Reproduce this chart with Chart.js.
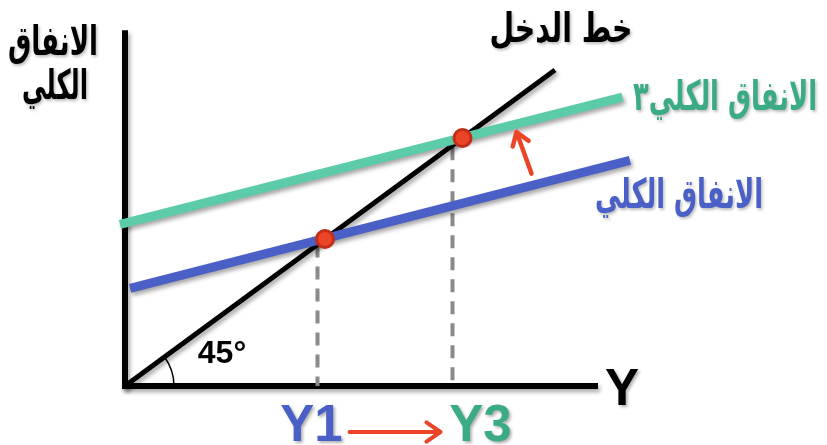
<!DOCTYPE html>
<html lang="ar">
<head>
<meta charset="utf-8">
<title>الانفاق الكلي وخط الدخل</title>
<script src="https://cdn.jsdelivr.net/npm/chart.js@4.4.1/dist/chart.umd.min.js"></script>
<style>
  html, body { margin: 0; padding: 0; background: #fff; }
  #wrap { width: 827px; height: 445px; }
</style>
</head>
<body>
<div id="wrap"><canvas id="chart" width="827" height="445"></canvas></div>
<script>
// 45 degree income line (spending = income)
const incomeX = [0, 86];
// aggregate expenditure before the shift (blue) and after it (green)
const ae1X = [1, 101];
const ae1Y = [26.6, 61.4];
const ae3X = [-1, 99.5];
const ae3Y = [44, 78.6];
// equilibrium incomes, where each AE line meets the 45 degree line
const equilibria = [40, 67.5];
// dashed guides dropped down to the income axis
const dropX = [38.5, 65.5];
const dropTop = [38.5, 65];
// axis extents
const axisXMax = 94;
const axisYMax = 96;

const xLabels = ['Y1', 'Y3'];
const yTitle = ['الانفاق', 'الكلي'];
const incomeTitle = 'خط الدخل';
const ae1Title = 'الانفاق الكلي';
const ae3Title = 'الانفاق الكلي٣';

const BLUE = '#4b60c6';
const GREEN_LINE = '#5ccba9';
const GREEN_TEXT = '#3aab86';
const RED = '#ec4426';

const toPoints = (xs, ys) => xs.map((x, i) => ({ x: x, y: ys[i] }));

// y value of a straight line through two points, at x
const lineAt = (xs, ys, x) => ys[0] + (ys[1] - ys[0]) * (x - xs[0]) / (xs[1] - xs[0]);

const datasets = [
    {
        label: 'axis-y', data: toPoints([0, 0], [0, axisYMax]),
        borderColor: '#000', borderWidth: 6, borderCapStyle: 'square', order: 5, shadow: true
    },
    {
        label: 'axis-x', data: toPoints([0, axisXMax], [0, 0]),
        borderColor: '#000', borderWidth: 6, borderCapStyle: 'square', order: 5, shadow: true
    },
    ...dropX.map((x, i) => ({
        label: 'drop-' + i, data: toPoints([x, x], [dropTop[i], 0]),
        borderColor: '#8a8a8a', borderWidth: 4, borderDash: [13, 9], order: 4
    })),
    {
        label: incomeTitle, data: toPoints(incomeX, incomeX),
        borderColor: '#000', borderWidth: 5, order: 3, shadow: true
    },
    {
        label: ae3Title, data: toPoints(ae3X, ae3Y),
        borderColor: GREEN_LINE, borderWidth: 9, order: 2, shadow: true
    },
    {
        label: ae1Title, data: toPoints(ae1X, ae1Y),
        borderColor: BLUE, borderWidth: 9, order: 1, shadow: true
    },
    {
        label: 'equilibrium', data: toPoints(equilibria, equilibria), showLine: false,
        pointRadius: 8.5, pointBackgroundColor: RED, pointBorderColor: '#c22d18', pointBorderWidth: 3, order: 0
    }
];
datasets.forEach(ds => { ds.clip = false; if (ds.showLine === undefined) ds.showLine = true; });

// soft drop shadow like the slide graphic
const shadowPlugin = {
    id: 'shadow',
    beforeDatasetDraw(chart, args) {
        if (!chart.data.datasets[args.index].shadow) return;
        const c = chart.ctx;
        c.save();
        c.shadowColor = 'rgba(0,0,0,0.35)';
        c.shadowBlur = 4;
        c.shadowOffsetX = 2;
        c.shadowOffsetY = 3;
    },
    afterDatasetDraw(chart, args) {
        if (chart.data.datasets[args.index].shadow) chart.ctx.restore();
    }
};

function chevronArrow(ctx, x1, y1, x2, y2, color, width, head) {
    const a = Math.atan2(y2 - y1, x2 - x1);
    ctx.save();
    ctx.strokeStyle = color;
    ctx.lineWidth = width;
    ctx.lineCap = 'round';
    ctx.lineJoin = 'round';
    ctx.beginPath();
    ctx.moveTo(x1, y1);
    ctx.lineTo(x2, y2);
    ctx.moveTo(x2 - head * Math.cos(a - 0.6), y2 - head * Math.sin(a - 0.6));
    ctx.lineTo(x2, y2);
    ctx.lineTo(x2 - head * Math.cos(a + 0.6), y2 - head * Math.sin(a + 0.6));
    ctx.stroke();
    ctx.restore();
}

// draw a text squeezed/stretched to a given width
function fitText(ctx, text, cx, cy, w, font, color) {
    ctx.save();
    ctx.font = font;
    ctx.fillStyle = color;
    ctx.textAlign = 'center';
    ctx.textBaseline = 'middle';
    ctx.direction = 'rtl';
    ctx.shadowColor = 'rgba(0,0,0,0.25)';
    ctx.shadowBlur = 3;
    ctx.shadowOffsetX = 1.5;
    ctx.shadowOffsetY = 2;
    const m = ctx.measureText(text).width;
    ctx.translate(cx, cy);
    ctx.scale(w / m, 1);
    ctx.fillText(text, 0, 0);
    ctx.restore();
}

const labelsPlugin = {
    id: 'labels',
    afterDraw(chart) {
        const ctx = chart.ctx;
        const xs = chart.scales.x, ys = chart.scales.y;
        const ox = xs.getPixelForValue(0), oy = ys.getPixelForValue(0);

        // 45 degree angle mark
        const ex = xs.getPixelForValue(incomeX[1]), ey = ys.getPixelForValue(incomeX[1]);
        const ang = Math.atan2(ey - oy, ex - ox);
        ctx.save();
        ctx.strokeStyle = '#000';
        ctx.lineWidth = 1.5;
        ctx.beginPath();
        ctx.arc(ox, oy, 49, ang, 0);
        ctx.stroke();
        ctx.fillStyle = '#000';
        ctx.font = 'bold 32px "Liberation Sans", Arial, sans-serif';
        ctx.textAlign = 'center';
        ctx.textBaseline = 'middle';
        ctx.fillText('45°', ox + 97, oy - 32);

        // axis name Y
        ctx.font = 'bold 51px "Liberation Sans", Arial, sans-serif';
        ctx.shadowColor = 'rgba(0,0,0,0.3)';
        ctx.shadowBlur = 3;
        ctx.shadowOffsetX = 2;
        ctx.shadowOffsetY = 2;
        ctx.fillText('Y', xs.getPixelForValue(axisXMax) + 27, oy + 5);

        // Y1 -> Y3
        const d1 = xs.getPixelForValue(dropX[0]), d3 = xs.getPixelForValue(dropX[1]);
        ctx.fillStyle = BLUE;
        ctx.fillText(xLabels[0], d1 - 6, oy + 41);
        ctx.fillStyle = GREEN_TEXT;
        ctx.fillText(xLabels[1], d3 + 28, oy + 41);
        ctx.restore();
        chevronArrow(ctx, d1 + 32, oy + 46, d3 - 12, oy + 46, RED, 4, 17);

        // upward shift arrow between the AE lines
        const tx = 81.3, hx = 78.3;
        chevronArrow(ctx,
            xs.getPixelForValue(tx), ys.getPixelForValue(lineAt(ae1X, ae1Y, tx)) - 12,
            xs.getPixelForValue(hx), ys.getPixelForValue(lineAt(ae3X, ae3Y, hx)) + 8,
            RED, 4.5, 15);

        // Arabic titles
        const arFont = 'bold 41px "DejaVu Sans", "Noto Sans", sans-serif';
        fitText(ctx, yTitle[0], 53, 44, 90, arFont, '#000');
        fitText(ctx, yTitle[1], 55, 88, 66, arFont, '#000');
        fitText(ctx, incomeTitle, 561, 31, 143, arFont, '#000');
        fitText(ctx, ae3Title, 725, 99, 184, arFont, GREEN_TEXT);
        fitText(ctx, ae1Title, 679, 197, 168, arFont, BLUE);
    }
};

new Chart(document.getElementById('chart').getContext('2d'), {
    type: 'scatter',
    data: { datasets: datasets },
    options: {
        responsive: false,
        animation: false,
        layout: { padding: { left: 115, right: 182, top: 18.6, bottom: 59 } },
        scales: {
            x: { type: 'linear', min: -2, max: 104, display: false },
            y: { type: 'linear', min: 0, max: 100, display: false }
        },
        elements: { point: { radius: 0 }, line: { tension: 0 } },
        plugins: { legend: { display: false }, tooltip: { enabled: false } }
    },
    plugins: [shadowPlugin, labelsPlugin]
});
</script>
</body>
</html>
